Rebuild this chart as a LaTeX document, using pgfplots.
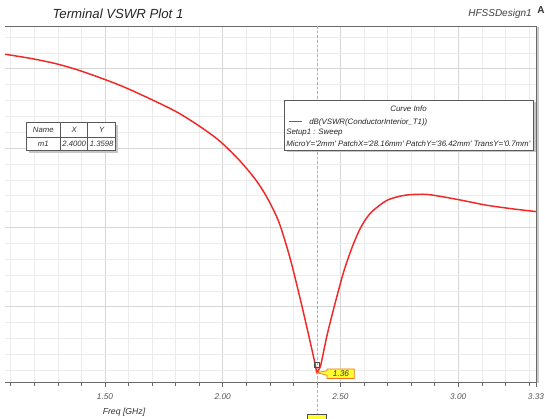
\documentclass[border=0pt]{standalone}
\usepackage{fontspec}
\setmainfont{Liberation Sans}
\usepackage{pgfplots}
\pgfplotsset{compat=1.18}
\definecolor{curvered}{HTML}{F02828}
\definecolor{mgrid}{HTML}{D6D6D6}
\definecolor{ngrid}{HTML}{ECECEC}
\definecolor{framegray}{HTML}{6A6A6A}
\definecolor{labgray}{HTML}{555555}
\definecolor{markyellow}{HTML}{FFFF30}
\definecolor{markborder}{HTML}{F07020}
\begin{document}
\begin{tikzpicture}
\useasboundingbox (0,0) rectangle (408.75pt,313.5pt);
\begin{axis}[
  at={(3.75pt,26.475pt)}, anchor=south west, scale only axis,
  width=398.25pt, height=267.525pt,
  xmin=1.0754, xmax=3.33, ymin=0.73, ymax=23.22,
  axis line style={draw=none},
  clip=false,
  xtick={1.5,2,2.5,3}, xticklabels={1.50,2.00,2.50,3.00},
  extra x ticks={3.33}, extra x tick labels={3.33}, extra x tick style={grid=none},
  minor xtick={1.1,1.2,1.3,1.4,1.6,1.7,1.8,1.9,2.1,2.2,2.3,2.4,2.6,2.7,2.8,2.9,3.1,3.2,3.3},
  ytick={5.52,10.52,15.52,20.52},
  minor ytick={1.52,2.52,3.52,4.52,6.52,7.52,8.52,9.52,11.52,12.52,13.52,14.52,16.52,17.52,18.52,19.52,21.52,22.52},
  yticklabels={}, ytick style={draw=none},
  grid=both,
  major grid style={mgrid, line width=0.6pt},
  minor grid style={ngrid, line width=0.5pt},
  tick align=outside, xtick pos=bottom,
  major tick length=3pt, minor tick length=2.2pt,
  xtick style={framegray, line width=0.5pt},
  xticklabel style={font=\fontsize{6.2}{7}\selectfont\itshape, text=labgray, yshift=-2pt},
]
\draw[framegray, line width=0.8pt] (rel axis cs:0,0) -- (rel axis cs:1,0);
\draw[framegray, line width=0.7pt] (rel axis cs:0,1) -- (rel axis cs:1,1) -- (rel axis cs:1,0);
\draw[gray!40, line width=1.2pt] ([xshift=1.3pt,yshift=-1pt]rel axis cs:1,1) -- ([xshift=1.3pt]rel axis cs:1,0);
\draw[gray!60, dash pattern=on 2pt off 1.5pt, line width=0.6pt] (axis cs:2.4,23.22) -- ([yshift=-27pt]axis cs:2.4,0.73);
\draw[gray!60!black, fill=markyellow, line width=0.4pt] ([xshift=-7pt,yshift=-23.5pt]axis cs:2.4,0.73) rectangle ([xshift=7pt,yshift=-30pt]axis cs:2.4,0.73);
\addplot[curvered, line width=1.1pt, smooth, tension=0.5] coordinates {
(1.0754,21.44) (1.1943,21.15) (1.3004,20.81) (1.4066,20.34) (1.5637,19.48)
(1.7038,18.54) (1.8083,17.77) (1.9034,16.88) (1.9883,15.95) (2.0732,14.71) (2.1369,13.58)
(2.1794,12.63) (2.2134,11.68) (2.2431,10.66) (2.2856,8.59) (2.3280,6.07)
(2.3577,4.18) (2.3832,2.51) (2.3938,1.78) (2.4000,1.36) (2.4087,1.59)
(2.4172,1.91) (2.4414,3.63) (2.4694,5.31) (2.5119,7.65) (2.5488,9.25)
(2.5828,10.43) (2.6168,11.24) (2.6507,11.74) (2.7017,12.26) (2.7739,12.55)
(2.8588,12.61) (2.9310,12.46) (3.0189,12.22) (3.1208,11.92) (3.2367,11.68)
(3.3300,11.52)
};
\addplot[only marks, mark=square, mark size=1.8pt, gray!60!black, mark options={yshift=6pt, fill=gray!20}] coordinates {(2.4,1.36)};
\draw[markborder, fill=markyellow, line width=0.5pt] (axis cs:2.4,1.36) -- ++(7.5pt,1.5pt) -- ++(0pt,1.3pt) -- ++(20.5pt,0pt) -- ++(0pt,-7.1pt) -- ++(-20.5pt,0pt) -- ++(0pt,2.4pt) -- cycle;
\node[font=\fontsize{6.2}{7}\selectfont\itshape, text=black!80] at ([xshift=18pt,yshift=-0.75pt]axis cs:2.4,1.36) {1.36};
\end{axis}
\begin{scope}[shift={(0pt,313.5pt)}, x=0.75pt, y=-0.75pt]
\node[font=\fontsize{9.9}{11}\selectfont\itshape, text=black!85] at (118,14) {Terminal VSWR Plot 1};
\node[font=\fontsize{7.5}{9}\selectfont\itshape, text=black!75] at (500,14) {HFSSDesign1};
\node[font=\fontsize{7.5}{9}\selectfont\bfseries, anchor=west, inner sep=0pt, text=black!80] at (537,10) {A};
\node[font=\fontsize{6.5}{8}\selectfont\itshape, text=black!80] at (124,412) {Freq [GHz]};
% marker table
\fill[gray!45] (28.5,125.2) rectangle (118.2,153.2);
\draw[gray!70!black, fill=white, line width=0.5pt] (26,122.7) rectangle (115.7,150.7);
\draw[gray!70!black, line width=0.4pt] (26,137.3) -- (115.7,137.3) (60.7,122.7) -- (60.7,150.7) (87.7,122.7) -- (87.7,150.7);
\begin{scope}[every node/.style={font=\fontsize{5.8}{7}\selectfont\itshape, text=black!80, inner sep=0pt}]
\node at (43.3,130.2) {Name};
\node at (74.2,130.2) {X};
\node at (101.7,130.2) {Y};
\node at (43.3,144.2) {m1};
\node at (74.2,144.2) {2.4000};
\node at (101.7,144.2) {1.3598};
\end{scope}
% curve info
\fill[gray!45] (286.5,102.5) rectangle (535.5,152.5);
\draw[gray!70!black, fill=white, line width=0.5pt] (284,100) rectangle (533,150);
\begin{scope}[every node/.style={font=\fontsize{5.9}{7}\selectfont\itshape, text=black!85, inner sep=0pt}]
\node at (408.5,108.5) {Curve Info};
\draw[curvered, line width=1.1pt] (289,121.5) -- (302,121.5);
\node[anchor=west] at (309,122) {dB(VSWR(ConductorInterior\_T1))};
\node[anchor=west] at (286,133) {Setup1 : Sweep};
\node[anchor=west] at (286,144) {MicroY=\textquotesingle2mm\textquotesingle{} PatchX=\textquotesingle28.16mm\textquotesingle{} PatchY=\textquotesingle36.42mm\textquotesingle{} TransY=\textquotesingle0.7mm\textquotesingle};
\end{scope}
\end{scope}
\end{tikzpicture}
\end{document}
